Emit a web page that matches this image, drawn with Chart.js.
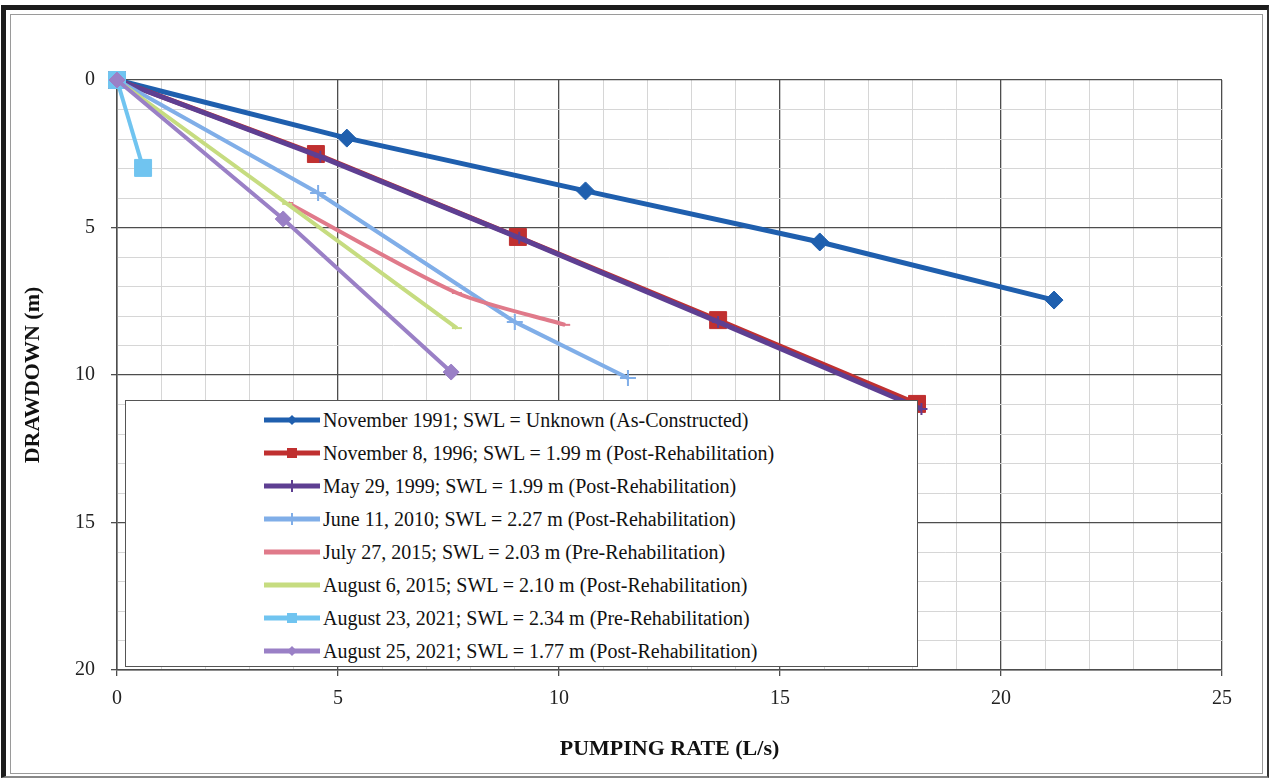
<!DOCTYPE html>
<html>
<head>
<meta charset="utf-8">
<script src="https://cdn.jsdelivr.net/npm/chart.js@4.4.1/dist/chart.umd.min.js"></script>
<style>
  html, body { margin: 0; padding: 0; background: #fff; }
  #wrap { position: relative; width: 1271px; height: 783px; overflow: hidden; background: #fff; }
  #myChart { position: absolute; left: 0; top: 0; }
  .frame-outer { position: absolute; left: 1px; top: 5px; right: 2px; bottom: 5px;
    border-top: 5px solid #1c1c1c; border-left: 5px solid #1c1c1c;
    border-right: 2px solid #333; border-bottom: 2px solid #888; pointer-events: none; }
  .frame-inner { position: absolute; left: 10px; top: 14px; right: 8px; bottom: 9px;
    border: 1px solid #9a9a9a; pointer-events: none; }
  #legend { position: absolute; left: 125px; top: 400px; width: 791px; height: 265px;
    background: #fff; border: 1px solid #555; font-family: "Liberation Serif", "Times New Roman", serif;
    font-size: 20px; color: #111; }
  #legend .row { position: absolute; left: 138px; height: 24px; display: flex; align-items: center; white-space: nowrap; }
  #legend svg { margin-right: 3px; }
</style>
</head>
<body>
<div id="wrap">
  <canvas id="myChart" width="1271" height="783"></canvas>
  <div id="legend"></div>
  <div class="frame-outer"></div>
  <div class="frame-inner"></div>
</div>
<script>
// axis ticks
const rateTicks = [0, 5, 10, 15, 20, 25];
const drawdownTicks = [0, 5, 10, 15, 20];

// step-test series: pumping rate (L/s) and drawdown (m)
const nov1991Rate = [0, 5.2, 10.6, 15.9, 21.2];
const nov1991Drawdown = [0, 1.97, 3.76, 5.49, 7.46];

const nov1996Rate = [0, 4.5, 9.07, 13.6, 18.1];
const nov1996Drawdown = [0, 2.51, 5.32, 8.14, 10.98];

const may1999Rate = [0, 4.6, 9.1, 13.6, 18.2];
const may1999Drawdown = [0, 2.6, 5.35, 8.2, 11.15];

const jun2010Rate = [0, 4.55, 9.0, 11.56];
const jun2010Drawdown = [0, 3.83, 8.2, 10.1];

const jul2015Rate = [3.87, 7.69, 10.14];
const jul2015Drawdown = [4.17, 7.22, 8.3];

const aug2015Rate = [0, 3.85, 7.69];
const aug2015Drawdown = [0, 4.2, 8.41];

const aug23Rate = [0, 0.59];
const aug23Drawdown = [0, 2.98];

const aug25Rate = [0, 3.76, 7.56];
const aug25Drawdown = [0, 4.71, 9.9];

function points(xs, ys) {
  return xs.map((x, i) => ({ x: x, y: ys[i] }));
}

const seriesDefs = [
  { label: "November 1991; SWL = Unknown (As-Constructed)", xs: nov1991Rate, ys: nov1991Drawdown,
    color: "#1f5fae", width: 5, style: "rectRot", radius: 9 },
  { label: "November 8, 1996; SWL = 1.99 m (Post-Rehabilitation)", xs: nov1996Rate, ys: nov1996Drawdown,
    color: "#c03030", width: 5, style: "rect", radius: 12 },
  { label: "May 29, 1999; SWL = 1.99 m (Post-Rehabilitation)", xs: may1999Rate, ys: may1999Drawdown,
    color: "#5e3f92", width: 5, style: "cross", radius: 6 },
  { label: "June 11, 2010; SWL = 2.27 m (Post-Rehabilitation)", xs: jun2010Rate, ys: jun2010Drawdown,
    color: "#80aee8", width: 4, style: "cross", radius: 8 },
  { label: "July 27, 2015; SWL = 2.03 m (Pre-Rehabilitation)", xs: jul2015Rate, ys: jul2015Drawdown,
    color: "#e07a8a", width: 4, style: "line", radius: 5, tension: 0.25 },
  { label: "August 6, 2015; SWL = 2.10 m (Post-Rehabilitation)", xs: aug2015Rate, ys: aug2015Drawdown,
    color: "#c6dc80", width: 4, style: "line", radius: 5 },
  { label: "August 23, 2021; SWL = 2.34 m (Pre-Rehabilitation)", xs: aug23Rate, ys: aug23Drawdown,
    color: "#70c4f0", width: 4, style: "rect", radius: 12 },
  { label: "August 25, 2021; SWL = 1.77 m (Post-Rehabilitation)", xs: aug25Rate, ys: aug25Drawdown,
    color: "#9a80c6", width: 4, style: "rectRot", radius: 8 }
];

const chartData = {
  datasets: seriesDefs.map((s, i) => ({
    label: s.label,
    data: points(s.xs, s.ys),
    showLine: true,
    borderColor: s.color,
    backgroundColor: s.color,
    borderWidth: s.width,
    pointStyle: s.style,
    pointRadius: s.radius,
    pointBorderWidth: s.style === "cross" || s.style === "line" ? 2 : 1,
    pointBorderColor: s.color,
    pointBackgroundColor: s.color,
    tension: s.tension || 0,
    clip: false,
    order: seriesDefs.length - i
  }))
};

const serif = "'Liberation Serif', 'Times New Roman', serif";
const majorGrid = "#4d4d4d";
const minorGrid = "#d6d6d6";

const ctx = document.getElementById("myChart").getContext("2d");
const chart = new Chart(ctx, {
  type: "scatter",
  data: chartData,
  options: {
    responsive: false,
    animation: false,
    layout: { padding: { left: 0, top: 80, right: 49, bottom: 0 } },
    plugins: { legend: { display: false }, tooltip: { enabled: false } },
    scales: {
      x: {
        type: "linear",
        min: 0,
        max: 25,
        afterFit: (scale) => { scale.height = 113; },
        ticks: {
          stepSize: 1,
          autoSkip: false,
          maxRotation: 0,
          padding: 11,
          color: "#222",
          font: { family: serif, size: 20 },
          callback: (v) => rateTicks.includes(v) ? String(v) : ""
        },
        grid: {
          color: (c) => c.tick && c.tick.value % 5 === 0 ? majorGrid : minorGrid,
          lineWidth: (c) => c.tick && c.tick.value % 5 === 0 ? 1.3 : 1,
          tickLength: 6,
          tickColor: (c) => c.tick && c.tick.value % 5 === 0 ? majorGrid : "rgba(0,0,0,0)"
        },
        border: { color: majorGrid, width: 1.5 },
        title: {
          display: true,
          text: "PUMPING RATE (L/s)",
          color: "#111",
          font: { family: serif, size: 22, weight: "bold" },
          padding: { top: 22, bottom: 20 }
        }
      },
      y: {
        type: "linear",
        reverse: true,
        min: 0,
        max: 20,
        afterFit: (scale) => { scale.width = 117; },
        ticks: {
          stepSize: 1,
          autoSkip: false,
          padding: 16,
          color: "#222",
          font: { family: serif, size: 20 },
          callback: (v) => drawdownTicks.includes(v) ? String(v) : ""
        },
        grid: {
          color: (c) => c.tick && c.tick.value % 5 === 0 ? majorGrid : minorGrid,
          lineWidth: (c) => c.tick && c.tick.value % 5 === 0 ? 1.3 : 1,
          tickLength: 6,
          tickColor: (c) => c.tick && c.tick.value % 5 === 0 ? majorGrid : "rgba(0,0,0,0)"
        },
        border: { color: majorGrid, width: 1.5 },
        title: {
          display: true,
          text: "DRAWDOWN (m)",
          color: "#111",
          font: { family: serif, size: 22, weight: "bold" },
          padding: { top: 20, bottom: 10 }
        }
      }
    }
  }
});

// legend box built from the chart's datasets
function sampleSvg(ds) {
  const ns = "http://www.w3.org/2000/svg";
  const svg = document.createElementNS(ns, "svg");
  svg.setAttribute("width", "56");
  svg.setAttribute("height", "16");
  const line = document.createElementNS(ns, "line");
  line.setAttribute("x1", "0"); line.setAttribute("y1", "8");
  line.setAttribute("x2", "56"); line.setAttribute("y2", "8");
  line.setAttribute("stroke", ds.borderColor);
  line.setAttribute("stroke-width", "5");
  svg.appendChild(line);
  let mark;
  if (ds.pointStyle === "rectRot") {
    mark = document.createElementNS(ns, "polygon");
    mark.setAttribute("points", "28,3 33,8 28,13 23,8");
  } else if (ds.pointStyle === "rect") {
    mark = document.createElementNS(ns, "rect");
    mark.setAttribute("x", "23"); mark.setAttribute("y", "3");
    mark.setAttribute("width", "10"); mark.setAttribute("height", "10");
  } else if (ds.pointStyle === "cross") {
    mark = document.createElementNS(ns, "path");
    mark.setAttribute("d", "M28 2 V14 M22 8 H34");
    mark.setAttribute("stroke", ds.borderColor);
    mark.setAttribute("stroke-width", "2");
  }
  if (mark) {
    mark.setAttribute("fill", ds.borderColor);
    svg.appendChild(mark);
  }
  return svg;
}

const legendEl = document.getElementById("legend");
chart.data.datasets.forEach((ds, i) => {
  const row = document.createElement("div");
  row.className = "row";
  row.style.top = (19 + 33 * i - 12) + "px";
  row.appendChild(sampleSvg(ds));
  const span = document.createElement("span");
  span.textContent = ds.label;
  row.appendChild(span);
  legendEl.appendChild(row);
});
</script>
</body>
</html>
